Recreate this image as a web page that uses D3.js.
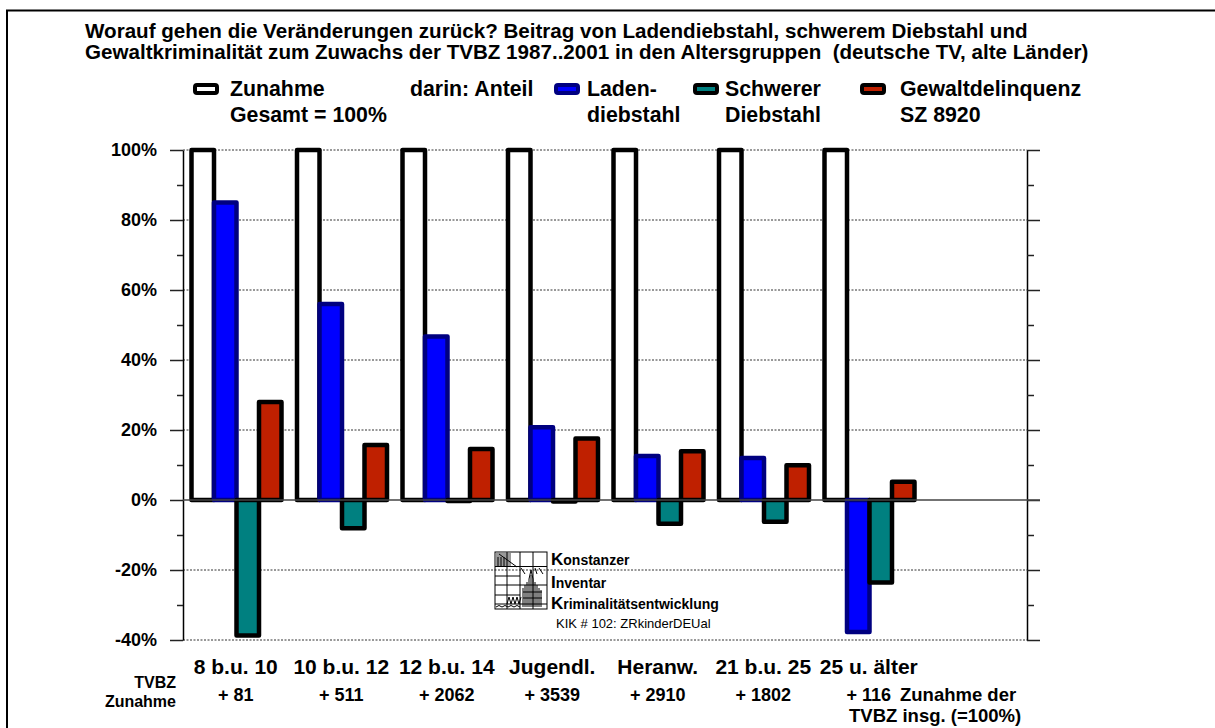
<!DOCTYPE html>
<html>
<head>
<meta charset="utf-8">
<script src="https://cdn.jsdelivr.net/npm/d3@7"></script>
<style>
  body { margin: 0; background: #fff; }
  svg text { font-family: "Liberation Sans", Arial, sans-serif; fill: #000; }
</style>
</head>
<body>
<div class="container"></div>
<script>
// data
const categories = ['8 b.u. 10', '10 b.u. 12', '12 b.u. 14', 'Jugendl.', 'Heranw.', '21 b.u. 25', '25 u. älter']
const increases = ['+ 81', '+ 511', '+ 2062', '+ 3539', '+ 2910', '+ 1802', '+ 116']
const totalShare = [100, 100, 100, 100, 100, 100, 100]
const shopliftingShare = [85, 56, 46.7, 20.8, 12.6, 12, -37.7]
const burglaryShare = [-38.7, -8.1, -0.3, -0.4, -6.8, -6.2, -23.6]
const violenceShare = [28, 15.7, 14.6, 17.6, 13.9, 9.9, 5.2]
const yTicks = [-40, -20, 0, 20, 40, 60, 80, 100]
const yMinorTicks = [-30, -10, 10, 30, 50, 70, 90]
const seriesNames = ['total', 'shoplifting', 'burglary', 'violence']

const width = 1215
const height = 728

const series = [
    { key: 'total', values: totalShare, fill: '#ffffff', stroke: '#000000' },
    { key: 'shoplifting', values: shopliftingShare, fill: '#0000ff', stroke: '#000080' },
    { key: 'burglary', values: burglaryShare, fill: '#008080', stroke: '#000000' },
    { key: 'violence', values: violenceShare, fill: '#bf2000', stroke: '#000000' }
]

const svg = d3.select('.container')
    .append('svg')
    .attr('width', width)
    .attr('height', height)

// outer frame
svg.append('rect')
    .attr('x', 7).attr('y', 10.5)
    .attr('width', width + 20).attr('height', height + 20)
    .attr('fill', 'none').attr('stroke', '#000').attr('stroke-width', 2)

// title
const title = svg.append('text')
    .attr('font-size', '20.6px').attr('font-weight', 'bold')
    .style('white-space', 'pre')
title.append('tspan').attr('x', 85).attr('y', 38)
    .text('Worauf gehen die Veränderungen zurück? Beitrag von Ladendiebstahl, schwerem Diebstahl und')
title.append('tspan').attr('x', 85).attr('y', 59)
    .text('Gewaltkriminalität zum Zuwachs der TVBZ 1987..2001 in den Altersgruppen  (deutsche TV, alte Länder)')

// scales (an empty 8th slot is kept on the right, as in the original)
const xScale = d3.scaleBand()
    .domain([...categories, ''])
    .range([183, 1027])

const xInner = d3.scaleBand()
    .domain(seriesNames)
    .range([8.5, 98.5])

const yScale = d3.scaleLinear()
    .domain([-40, 100])
    .range([640, 150])

// grid
svg.append('g')
    .selectAll('line')
    .data(yTicks.filter((d) => d !== 0))
    .enter()
    .append('line')
    .attr('x1', 183).attr('x2', 1027)
    .attr('y1', (d) => yScale(d)).attr('y2', (d) => yScale(d))
    .attr('stroke', '#333').attr('stroke-width', 1)
    .attr('stroke-dasharray', '2,1.5')

// axes
const leftAxis = svg.append('g')
    .attr('transform', 'translate(183,0)')
    .call(d3.axisLeft(yScale).tickValues(yTicks).tickSize(13).tickSizeOuter(0).tickPadding(13)
        .tickFormat((d) => d + '%'))
leftAxis.selectAll('text').attr('font-size', '18px').attr('font-weight', 'bold')
    .attr('font-family', '"Liberation Sans", Arial, sans-serif').attr('fill', '#000')

svg.append('g')
    .attr('transform', 'translate(183,0)')
    .call(d3.axisLeft(yScale).tickValues(yMinorTicks).tickSize(6).tickSizeOuter(0).tickFormat(''))
    .select('.domain').remove()

svg.append('g')
    .attr('transform', 'translate(1027,0)')
    .call(d3.axisRight(yScale).tickValues(yTicks).tickSize(13).tickSizeOuter(0).tickFormat(''))

svg.append('g')
    .attr('transform', 'translate(1027,0)')
    .call(d3.axisRight(yScale).tickValues(yMinorTicks).tickSize(7).tickSizeOuter(0).tickFormat(''))
    .select('.domain').remove()

svg.selectAll('.tick line').attr('stroke', '#222').attr('stroke-width', 1.5)
svg.selectAll('.domain').attr('stroke', '#000').attr('stroke-width', 1.5)

// bars
series.forEach((s) => {
    svg.append('g')
        .selectAll('rect')
        .data(s.values)
        .enter()
        .append('rect')
        .attr('x', (d, i) => xScale(categories[i]) + xInner(s.key))
        .attr('width', xInner.bandwidth())
        .attr('y', (d) => yScale(Math.max(0, d)))
        .attr('height', (d) => Math.abs(yScale(d) - yScale(0)))
        .attr('fill', s.fill)
        .attr('stroke', s.stroke)
        .attr('stroke-width', 4.5)
        .attr('stroke-linejoin', 'round')
})

// zero line
svg.append('line')
    .attr('x1', 183).attr('x2', 1040)
    .attr('y1', yScale(0)).attr('y2', yScale(0))
    .attr('stroke', '#444').attr('stroke-width', 1.5)

// legend
const legendSymbols = [
    { x: 195, fill: '#ffffff', stroke: '#000000' },
    { x: 556, fill: '#0000ff', stroke: '#000080' },
    { x: 695, fill: '#008080', stroke: '#000000' },
    { x: 862, fill: '#bf2000', stroke: '#000000' }
]
svg.append('g')
    .selectAll('rect')
    .data(legendSymbols)
    .enter()
    .append('rect')
    .attr('x', (d) => d.x).attr('y', 85)
    .attr('width', 22).attr('height', 8)
    .attr('rx', 2)
    .attr('fill', (d) => d.fill).attr('stroke', (d) => d.stroke).attr('stroke-width', 4)

const legendTexts = [
    { x: 230, lines: ['Zunahme', 'Gesamt = 100%'] },
    { x: 410, lines: ['darin: Anteil'] },
    { x: 587, lines: ['Laden-', 'diebstahl'] },
    { x: 725, lines: ['Schwerer', 'Diebstahl'] },
    { x: 900, lines: ['Gewaltdelinquenz', 'SZ 8920'] }
]
legendTexts.forEach((l) => {
    const t = svg.append('text').attr('font-size', '21.3px').attr('font-weight', 'bold')
    l.lines.forEach((line, i) => {
        t.append('tspan').attr('x', l.x).attr('y', 96 + i * 26).text(line)
    })
})

// category labels and increases
svg.append('g')
    .selectAll('text')
    .data(categories)
    .enter()
    .append('text')
    .attr('x', (d) => xScale(d) + xScale.bandwidth() / 2)
    .attr('y', 674)
    .attr('text-anchor', 'middle')
    .attr('font-size', '21px').attr('font-weight', 'bold')
    .text((d) => d)

svg.append('g')
    .selectAll('text')
    .data(increases)
    .enter()
    .append('text')
    .attr('x', (d, i) => xScale(categories[i]) + xScale.bandwidth() / 2)
    .attr('y', 701)
    .attr('text-anchor', 'middle')
    .attr('font-size', '18px').attr('font-weight', 'bold')
    .text((d) => d)

svg.append('text')
    .attr('x', 900).attr('y', 701)
    .attr('font-size', '18.5px').attr('font-weight', 'bold')
    .text('Zunahme der')
svg.append('text')
    .attr('x', 849).attr('y', 722)
    .attr('font-size', '18.5px').attr('font-weight', 'bold')
    .text('TVBZ insg. (=100%)')

const rowLabel = svg.append('text')
    .attr('text-anchor', 'end')
    .attr('font-size', '16px').attr('font-weight', 'bold')
rowLabel.append('tspan').attr('x', 176).attr('y', 688).text('TVBZ')
rowLabel.append('tspan').attr('x', 176).attr('y', 707).text('Zunahme')

// KIK logo
const logo = svg.append('g').attr('transform', 'translate(495,552)')
    .attr('fill', 'none').attr('stroke', '#000').attr('stroke-width', 1)
logo.append('rect').attr('x', 1).attr('y', 1).attr('width', 15).attr('height', 13)
    .attr('fill', '#999').attr('stroke', 'none')
logo.append('rect').attr('width', 52).attr('height', 57)
logo.append('path').attr('d',
    'M12,0V57M25,0V57M38,0V57' +
    'M0,14.5H52M0,24H25M0,33H52M0,43H25M0,52H52' +
    'M4,2L22,15M3,5V14M6,5V14M9,5V14')
logo.append('path').attr('d',
    'M28,55V36M30,55V33M32,55V30M34,55V27M36,55V23M38,55V27M40,55V30M42,55V33M44,55V36M46,55V38' +
    'M28,40H47M28,46H47M34,27L36,18L38,27')
logo.append('path').attr('d', 'M12,52L14,45L16,52L18,45L20,52L22,45L24,52L26,45')
logo.append('path').attr('d', 'M1,55Q4,52 7,55Q10,52 13,55Q16,52 19,55Q22,52 25,55')
logo.append('path').attr('d', 'M26,16L30,22M40,16L42,22M44,16L48,22')

const logoLines = [['K', 'onstanzer', 565], ['I', 'nventar', 588], ['K', 'riminalitätsentwicklung', 609]]
logoLines.forEach((l) => {
    const t = svg.append('text').attr('x', 551).attr('y', l[2]).attr('font-weight', 'bold')
    t.append('tspan').attr('font-size', '17px').text(l[0])
    t.append('tspan').attr('font-size', '14px').text(l[1])
})
svg.append('text')
    .attr('x', 556).attr('y', 628)
    .attr('font-size', '13px')
    .text('KIK # 102: ZRkinderDEUal')
</script>
</body>
</html>
